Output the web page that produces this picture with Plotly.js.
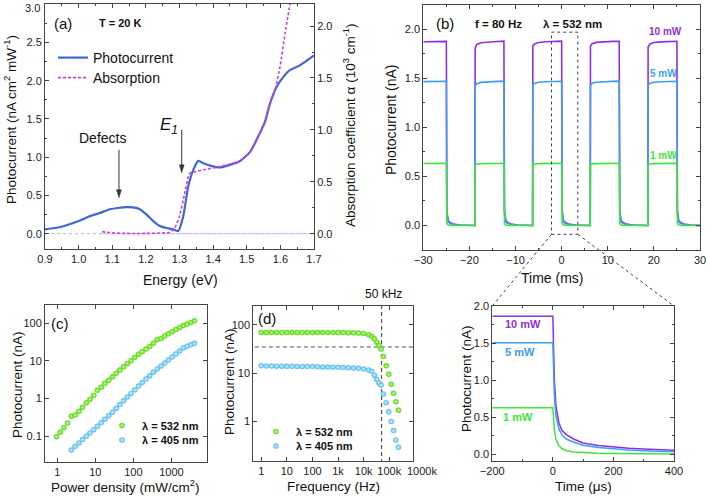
<!DOCTYPE html>
<html>
<head>
<meta charset="utf-8">
<script src="https://cdn.plot.ly/plotly-3.0.1.min.js"></script>
<style>
  html, body { margin: 0; padding: 0; background: #ffffff; }
  #chart { width: 707px; height: 496px; }
</style>
</head>
<body>
<div id="chart"></div>
<script>
// ---- (a) photocurrent and absorption spectra at 20 K ----
const pcEnergy = [0.9, 0.935, 0.964, 1.0, 1.034, 1.063, 1.093, 1.123, 1.14, 1.162, 1.182, 1.202, 1.222, 1.242, 1.261,
  1.281, 1.296, 1.311, 1.326, 1.341, 1.356, 1.371, 1.391, 1.42, 1.45, 1.48, 1.51, 1.534, 1.554, 1.569, 1.589,
  1.609, 1.629, 1.658, 1.7];
const pcValue = [0.057, 0.078, 0.11, 0.165, 0.23, 0.27, 0.32, 0.34, 0.348, 0.343, 0.32, 0.25, 0.165, 0.1, 0.074,
  0.057, 0.035, 0.226, 0.617, 0.834, 0.952, 0.92, 0.89, 0.865, 0.9, 0.95, 1.07, 1.27, 1.46, 1.7, 1.92,
  2.05, 2.14, 2.2, 2.33];
const absEnergy = [1.07, 1.08, 1.1, 1.13, 1.16, 1.2, 1.24, 1.27, 1.285, 1.3, 1.315, 1.33, 1.35, 1.371, 1.42, 1.45,
  1.48, 1.51, 1.534, 1.554, 1.569, 1.584, 1.599, 1.614, 1.63];
const absValue = [0.02, 0.015, 0.008, 0.004, 0.002, 0.003, 0.006, 0.012, 0.05, 0.17, 0.38, 0.58, 0.6, 0.615, 0.647, 0.67,
  0.7, 0.79, 0.936, 1.07, 1.25, 1.385, 1.61, 1.93, 2.24];
const pcTicks = [0, 0.5, 1, 1.5, 2, 2.5];
const defectsMark = { energy: 1.12, value: 0.47 };
const e1Mark = { energy: 1.3066, value: 0.795 };

// ---- (b) square-wave response, f = 80 Hz ----
const pulseTime = [-30, -27.5, -25.02,
  -25, -24.9, -24.6, -24.2, -23.5, -22, -18.8,
  -18.75, -18.4, -17.5, -16, -14, -12.52,
  -12.5, -12.4, -12.1, -11.7, -11, -9.5, -6.3,
  -6.25, -5.9, -5, -3.5, -1.5, -0.02,
  0, 0.1, 0.4, 0.8, 1.5, 3, 6.2,
  6.25, 6.6, 7.5, 9, 11, 12.48,
  12.5, 12.6, 12.9, 13.3, 14, 15.5, 18.7,
  18.75, 19.1, 20, 21.5, 23.5, 24.98,
  25, 25.1, 25.4, 25.8, 26.5, 28, 30];
const pulse10mW = [1.872, 1.875, 1.876,
  1.876, 0.15, 0.05, 0.03, 0.015, 0.005, 0,
  1.81, 1.845, 1.862, 1.87, 1.875, 1.878,
  1.878, 0.15, 0.05, 0.03, 0.015, 0.005, 0,
  1.83, 1.85, 1.865, 1.872, 1.876, 1.878,
  1.878, 0.15, 0.05, 0.03, 0.015, 0.005, 0,
  1.83, 1.852, 1.866, 1.872, 1.876, 1.877,
  1.877, 0.15, 0.05, 0.03, 0.015, 0.005, 0,
  1.82, 1.848, 1.864, 1.871, 1.875, 1.877,
  1.877, 0.15, 0.05, 0.03, 0.015, 0.005, 0];
const pulse5mW = [1.466, 1.469, 1.47,
  1.47, 0.12, 0.035, 0.02, 0.01, 0.003, 0,
  1.42, 1.445, 1.458, 1.465, 1.469, 1.471,
  1.471, 0.12, 0.035, 0.02, 0.01, 0.003, 0,
  1.43, 1.448, 1.459, 1.465, 1.469, 1.47,
  1.47, 0.12, 0.035, 0.02, 0.01, 0.003, 0,
  1.43, 1.45, 1.46, 1.466, 1.469, 1.471,
  1.471, 0.12, 0.035, 0.02, 0.01, 0.003, 0,
  1.43, 1.448, 1.459, 1.465, 1.468, 1.47,
  1.47, 0.12, 0.035, 0.02, 0.01, 0.003, 0];
const pulse1mW = [0.632, 0.634, 0.634,
  0.634, 0.02, 0.004, 0, 0, 0, 0,
  0.62, 0.626, 0.629, 0.631, 0.633, 0.634,
  0.634, 0.02, 0.004, 0, 0, 0, 0,
  0.622, 0.627, 0.63, 0.632, 0.633, 0.634,
  0.634, 0.02, 0.004, 0, 0, 0, 0,
  0.622, 0.627, 0.63, 0.632, 0.633, 0.634,
  0.634, 0.02, 0.004, 0, 0, 0, 0,
  0.622, 0.627, 0.63, 0.632, 0.633, 0.634,
  0.634, 0.02, 0.004, 0, 0, 0, 0];

// ---- (c) photocurrent vs power density ----
const power532 = [0.955, 1.2, 1.5, 1.88, 2.35, 2.95, 3.7, 4.63, 5.81, 7.28, 9.12, 11.4, 14.3, 17.9, 22.5, 28.2,
  35.3, 44.3, 55.5, 69.5, 87.1, 109, 137, 171, 215, 269, 337, 423, 530, 664, 832, 1042, 1306, 1637, 2051,
  2570, 3221, 4036];
const current532 = [0.096, 0.126, 0.167, 0.223, 0.336, 0.364, 0.457, 0.583, 0.775, 0.953, 1.22, 1.65, 1.99, 2.54,
  3.05, 3.8, 4.68, 5.73, 7.0, 8.6, 10.1, 12.5, 15.0, 17.6, 20.7, 24.4, 29.4, 37.5, 39.8, 45.9, 52.9, 59.8,
  69.2, 78.3, 88.5, 95.8, 106, 117];
const power405 = [2.35, 2.95, 3.7, 4.63, 5.81, 7.28, 9.12, 11.4, 14.3, 17.9, 22.5, 28.2, 35.3, 44.3, 55.5, 69.5,
  87.1, 109, 137, 171, 215, 269, 337, 423, 530, 664, 832, 1042, 1306, 1637, 2051, 2570, 3221, 4036];
const current405 = [0.0424, 0.0525, 0.065, 0.0805, 0.0988, 0.121, 0.148, 0.182, 0.225, 0.28, 0.348, 0.434, 0.545,
  0.689, 0.869, 1.1, 1.37, 1.71, 2.14, 2.67, 3.3, 4.06, 4.99, 6.14, 7.4, 8.87, 10.6, 12.8, 15.3, 18.5, 22.3,
  24.5, 26.9, 29.4];

// ---- (d) photocurrent vs modulation frequency ----
const frequency = [1, 1.58, 2.51, 3.98, 6.31, 10, 15.8, 25.1, 39.8, 63.1, 100, 158, 251, 398, 631, 1000, 1580,
  2510, 3980, 6310, 10000, 15800, 20900, 26300, 32400, 39800, 47900, 58900, 75900, 95500, 120000, 148000,
  182000, 229000];
const freq532 = [69.5, 69.5, 69.5, 69.5, 69.5, 69.5, 69.5, 69.5, 69.5, 69.5, 69.5, 69.5, 69.5, 69.5, 69.5, 69.5,
  69.3, 69, 68.5, 67.8, 66.5, 62.5, 57.3, 51.3, 43.8, 37.3, 31.8, 22.1, 14.2, 9.5, 5.9, 3.85, 2.58, 1.71];
const freq405 = [14.2, 14.1, 14.1, 14.0, 14.0, 13.9, 13.9, 13.8, 13.8, 13.7, 13.7, 13.6, 13.5, 13.4, 13.3, 13.2,
  13.1, 13.0, 12.8, 12.6, 12.2, 11.6, 10.8, 9.1, 7.4, 6.3, 5.6, 3.72, 2.46, 1.6, 1.0, 0.65, 0.416, 0.294];
const cutoffFreq = 50000;
const halfCurrent = 34.8;

// ---- zoomed decay (µs) ----
const decayTime = [-200, 0, 2, 5, 10, 20, 30, 45, 70, 100, 150, 200, 250, 300, 400];
const decay10mW = [1.865, 1.865, 1.5, 1.0, 0.65, 0.42, 0.32, 0.26, 0.2, 0.15, 0.115, 0.095, 0.08, 0.068, 0.05];
const decay5mW = [1.504, 1.504, 1.2, 0.8, 0.52, 0.34, 0.26, 0.2, 0.16, 0.12, 0.09, 0.07, 0.055, 0.045, 0.03];
const decay1mW = [0.626, 0.626, 0.5, 0.33, 0.2, 0.11, 0.075, 0.045, 0.028, 0.018, 0.01, 0.006, 0.003, 0.002, 0];

// ---- drawing ----
const W = 707, H = 496;
const px = (v) => v / W;
const py = (v) => 1 - v / H;
const FONT = "Liberation Sans, Arial, sans-serif";

const purple = "#8e2fe6";
const sky = "#3d9df0";
const lime = "#3fe53a";
const pcBlue = "#4066d6";
const magenta = "#d13fd6";
const frameColor = "#444444";

// panel boxes in pixels
const boxA = { l: 45, r: 314, t: 4, b: 249 };
const boxB = { l: 423.3, r: 700, t: 4.7, b: 250 };
const boxC = { l: 45, r: 206.5, t: 305, b: 462 };
const boxD = { l: 253.3, r: 413.3, t: 306, b: 460.7 };
const boxE = { l: 492.3, r: 674, t: 306, b: 460.7 };
const xdom = (b) => [px(b.l), px(b.r)];
const ydom = (b) => [py(b.b), py(b.t)];

const rangeA = { x: [0.9, 1.7], y: [-0.2, 3.002] };
const rangeB = { x: [-30, 30], y: [-0.25, 2.25] };

const axisBase = (extra) => Object.assign({
  showline: true,
  linecolor: frameColor,
  linewidth: 1,
  mirror: "ticks",
  ticks: "inside",
  ticklen: 4,
  tickcolor: frameColor,
  tickwidth: 1,
  showgrid: false,
  zeroline: false,
  ticklabeloverflow: "allow",
  tickfont: { family: FONT, size: 11, color: "#222" },
  fixedrange: true
}, extra);
const minor = (dtick) => ({ dtick, ticks: "inside", ticklen: 2, tickcolor: frameColor, showgrid: false });

const sphere = (edge, core, size) => ({
  size,
  color: edge,
  line: { width: 0 },
  gradient: { type: "radial", color: core }
});

const traces = [
  // (a)
  {
    x: pcEnergy, y: pcValue, xaxis: "x", yaxis: "y", type: "scatter", mode: "lines",
    name: "Photocurrent", legend: "legend",
    line: { color: pcBlue, width: 2.2, shape: "spline", smoothing: 0.6 }
  },
  {
    x: absEnergy, y: absValue, xaxis: "x", yaxis: "y2", type: "scatter", mode: "lines",
    name: "Absorption", legend: "legend2",
    line: { color: magenta, width: 1.6, dash: "3px,2px", shape: "spline", smoothing: 0.5 }
  },
  // (b)
  {
    x: pulseTime, y: pulse10mW, xaxis: "x2", yaxis: "y3", type: "scatter", mode: "lines",
    showlegend: false, line: { color: purple, width: 1.6 }
  },
  {
    x: pulseTime, y: pulse5mW, xaxis: "x2", yaxis: "y3", type: "scatter", mode: "lines",
    showlegend: false, line: { color: sky, width: 1.6 }
  },
  {
    x: pulseTime, y: pulse1mW, xaxis: "x2", yaxis: "y3", type: "scatter", mode: "lines",
    showlegend: false, line: { color: lime, width: 1.6 }
  },
  // (c)
  {
    x: power532, y: current532, xaxis: "x3", yaxis: "y4", type: "scatter", mode: "markers",
    name: "<b>λ = 532 nm</b>", legend: "legend3", marker: sphere("#52d312", "#c6ff8e", 5.5)
  },
  {
    x: power405, y: current405, xaxis: "x3", yaxis: "y4", type: "scatter", mode: "markers",
    name: "<b>λ = 405 nm</b>", legend: "legend4", marker: sphere("#4fb8ea", "#d2f1ff", 5.5)
  },
  // (d)
  {
    x: [cutoffFreq, cutoffFreq], y: [0.1, 400], xaxis: "x4", yaxis: "y5", type: "scatter", mode: "lines",
    showlegend: false, line: { color: "#555", width: 1.2, dash: "4px,3px" }
  },
  {
    x: [0.3, 3e6], y: [halfCurrent, halfCurrent], xaxis: "x4", yaxis: "y5", type: "scatter", mode: "lines",
    showlegend: false, line: { color: "#555", width: 1.2, dash: "4px,3px" }
  },
  {
    x: frequency, y: freq532, xaxis: "x4", yaxis: "y5", type: "scatter", mode: "markers",
    name: "<b>λ = 532 nm</b>", legend: "legend5", marker: sphere("#52d312", "#c6ff8e", 5.5)
  },
  {
    x: frequency, y: freq405, xaxis: "x4", yaxis: "y5", type: "scatter", mode: "markers",
    name: "<b>λ = 405 nm</b>", legend: "legend6", marker: sphere("#4fb8ea", "#d2f1ff", 5.5)
  },
  // zoomed decay
  {
    x: decayTime, y: decay10mW, xaxis: "x5", yaxis: "y6", type: "scatter", mode: "lines",
    showlegend: false, line: { color: purple, width: 1.5 }
  },
  {
    x: decayTime, y: decay5mW, xaxis: "x5", yaxis: "y6", type: "scatter", mode: "lines",
    showlegend: false, line: { color: sky, width: 1.5 }
  },
  {
    x: decayTime, y: decay1mW, xaxis: "x5", yaxis: "y6", type: "scatter", mode: "lines",
    showlegend: false, line: { color: lime, width: 1.5 }
  }
];

const text = (t, x, y, o = {}) => Object.assign({
  text: t, x: px(x), y: py(y), xref: "paper", yref: "paper", showarrow: false,
  xanchor: "center", yanchor: "middle",
  font: { family: FONT, size: o.size || 14, color: o.color || "#111" }
}, o.extra || {});
const vtext = (t, x, y, size) => text(t, x, y, { size, extra: { textangle: -90 } });

const annotations = [
  // top tick label of (a), nudged inside the page
  text("3.0", 41.5, 7.5, { size: 11, color: "#222", extra: { xanchor: "right" } }),
  text("(a)", 63, 23, { size: 15 }),
  text("<b>T = 20 K</b>", 120, 23, { size: 11 }),
  text("Defects", 102, 137.5, { size: 14 }),
  text("<i>E<sub>1</sub></i>", 169, 126, { size: 17 }),
  vtext("Photocurrent (nA cm<sup>2</sup> mW<sup>-1</sup>)", 10, 120, 13.5),
  vtext("Absorption coefficient α (10<sup>3</sup> cm<sup>-1</sup>)", 349, 125, 13.5),
  text("Energy (eV)", 180, 280, { size: 14 }),

  text("(b)", 445, 24, { size: 15 }),
  text("<b>f = 80 Hz</b>", 498, 24, { size: 11.5 }),
  text("<b>λ = 532 nm</b>", 572, 24, { size: 11.5 }),
  text("<b>10 mW</b>", 665, 32, { size: 10, color: purple }),
  text("<b>5 mW</b>", 663, 73, { size: 10, color: sky }),
  text("<b>1 mW</b>", 663, 155, { size: 10, color: lime }),
  vtext("Photocurrent (nA)", 391, 120, 14),
  text("Time (ms)", 552, 278, { size: 14 }),

  text("(c)", 60, 323, { size: 15 }),
  vtext("Photocurrent (nA)", 17, 385, 13.5),
  text("Power density (mW/cm<sup>2</sup>)", 125, 486, { size: 13.5 }),

  text("(d)", 267, 318, { size: 15 }),
  text("50 kHz", 383, 294, { size: 12 }),
  text("1000k", 422, 470.5, { size: 11, color: "#222" }),
  vtext("Photocurrent (nA)", 229, 382, 13.5),
  text("Frequency (Hz)", 333, 486, { size: 13.5 }),

  text("<b>10 mW</b>", 523, 324, { size: 11, color: purple }),
  text("<b>5 mW</b>", 520, 352, { size: 11, color: sky }),
  text("<b>1 mW</b>", 518, 417, { size: 11, color: lime }),
  vtext("Photocurrent (nA)", 466, 379, 13.5),
  text("Time (μs)", 583, 486, { size: 13.5 })
];

// pixel mapping for panels (a) and (b), used by the arrows and zoom connectors
const aX = (e) => boxA.l + (e - rangeA.x[0]) / (rangeA.x[1] - rangeA.x[0]) * (boxA.r - boxA.l);
const aY = (v) => boxA.b - (v - rangeA.y[0]) / (rangeA.y[1] - rangeA.y[0]) * (boxA.b - boxA.t);
const bX = (t) => boxB.l + (t - rangeB.x[0]) / (rangeB.x[1] - rangeB.x[0]) * (boxB.r - boxB.l);
const bY = (v) => boxB.b - (v - rangeB.y[0]) / (rangeB.y[1] - rangeB.y[0]) * (boxB.b - boxB.t);

const arrowShapes = (mark, length) => {
  const x = aX(mark.energy);
  const tip = aY(mark.value);
  const head = 8, half = 2.4;
  return [
    { type: "line", xref: "paper", yref: "paper", x0: px(x), x1: px(x), y0: py(tip - length), y1: py(tip - head + 1),
      line: { color: "#333", width: 1 } },
    { type: "path", xref: "paper", yref: "paper", fillcolor: "#333", line: { color: "#333", width: 0.5 },
      path: `M ${px(x)},${py(tip)} L ${px(x - half)},${py(tip - head)} L ${px(x + half)},${py(tip - head)} Z` }
  ];
};

const zoomBox = { t0: -2.2, t1: 3.5, v0: -0.09, v1: 1.97 };
const dashed = { color: "#444", width: 1, dash: "3px,3px" };
const shapes = [
  // zero baselines in (a)
  { type: "line", xref: "x", yref: "y", x0: 0.9, x1: 1.7, y0: 0, y1: 0, layer: "below",
    line: { color: "#a9b8f0", width: 1, dash: "dot" } },
  { type: "line", xref: "x", yref: "y", x0: 1.07, x1: 1.7, y0: 0, y1: 0, layer: "below",
    line: { color: "#f2a8f2", width: 1, dash: "dot" } },
  ...arrowShapes(defectsMark, 48),
  ...arrowShapes(e1Mark, 43),
  // zoom window in (b)
  { type: "rect", xref: "x2", yref: "y3", x0: zoomBox.t0, x1: zoomBox.t1, y0: zoomBox.v0, y1: zoomBox.v1,
    line: dashed },
  { type: "line", xref: "paper", yref: "paper",
    x0: px(bX(zoomBox.t0)), y0: py(bY(zoomBox.v0)), x1: px(boxE.l), y1: py(boxE.t), line: dashed },
  { type: "line", xref: "paper", yref: "paper",
    x0: px(bX(zoomBox.t1)), y0: py(bY(zoomBox.v0)), x1: px(boxE.r), y1: py(boxE.t), line: dashed }
];

// one legend box per entry so every row sits where the reference puts it
const legendAt = (left, top, size) => ({
  x: px(left), y: py(top), xanchor: "left", yanchor: "top",
  bgcolor: "rgba(0,0,0,0)", borderwidth: 0, itemwidth: 30,
  font: { family: FONT, size, color: "#111" }
});

const layout = {
  width: W,
  height: H,
  margin: { l: 0, r: 0, t: 0, b: 0 },
  paper_bgcolor: "#ffffff",
  plot_bgcolor: "rgba(0,0,0,0)",
  font: { family: FONT, color: "#111" },
  showlegend: true,

  xaxis: axisBase({ domain: xdom(boxA), anchor: "y", range: rangeA.x, tick0: 0.9, dtick: 0.1,
    tickformat: ".1f", minor: minor(0.05) }),
  yaxis: axisBase({ domain: ydom(boxA), anchor: "x", range: rangeA.y, tickmode: "array", tickvals: pcTicks,
    tickformat: ".1f", mirror: false, minor: Object.assign(minor(0.25), { tick0: 0 }) }),
  yaxis2: axisBase({ overlaying: "y", side: "right", anchor: "x", range: [-0.1475, 2.2125], tick0: 0, dtick: 0.5,
    tickformat: ".1f", mirror: false, minor: minor(0.25) }),

  xaxis2: axisBase({ domain: xdom(boxB), anchor: "y3", range: rangeB.x, tick0: 0, dtick: 10, minor: minor(5) }),
  yaxis3: axisBase({ domain: ydom(boxB), anchor: "x2", range: rangeB.y, tick0: 0, dtick: 0.5,
    tickformat: ".1f", minor: minor(0.25) }),

  xaxis3: axisBase({ domain: xdom(boxC), anchor: "y4", type: "log", range: [-0.32, 3.92],
    tickmode: "array", tickvals: [1, 10, 100, 1000], ticktext: ["1", "10", "100", "1000"] }),
  yaxis4: axisBase({ domain: ydom(boxC), anchor: "x3", type: "log", range: [-1.69, 2.49],
    tickmode: "array", tickvals: [0.1, 1, 10, 100], ticktext: ["0.1", "1", "10", "100"] }),

  xaxis4: axisBase({ domain: xdom(boxD), anchor: "y5", type: "log", range: [-0.31, 5.94],
    tickmode: "array", tickvals: [1, 10, 100, 1e3, 1e4, 1e5],
    ticktext: ["1", "10", "100", "1k", "10k", "100k"] }),
  yaxis5: axisBase({ domain: ydom(boxD), anchor: "x4", type: "log", range: [-0.81, 2.39],
    tickmode: "array", tickvals: [1, 10, 100], ticktext: ["1", "10", "100"] }),

  xaxis5: axisBase({ domain: xdom(boxE), anchor: "y6", range: [-200, 400], tick0: 0, dtick: 200, minor: minor(100) }),
  yaxis6: axisBase({ domain: ydom(boxE), anchor: "x5", range: [-0.09, 2.002], tick0: 0, dtick: 0.5,
    tickformat: ".1f", minor: minor(0.25) }),

  legend: legendAt(53, 42, 14),
  legend2: legendAt(53, 62, 14),
  legend3: legendAt(102, 411, 11),
  legend4: legendAt(102, 425.5, 11),
  legend5: legendAt(256, 417, 11),
  legend6: legendAt(256, 431.5, 11),

  annotations,
  shapes
};

Plotly.newPlot("chart", traces, layout, { displayModeBar: false, staticPlot: true });
</script>
</body>
</html>
